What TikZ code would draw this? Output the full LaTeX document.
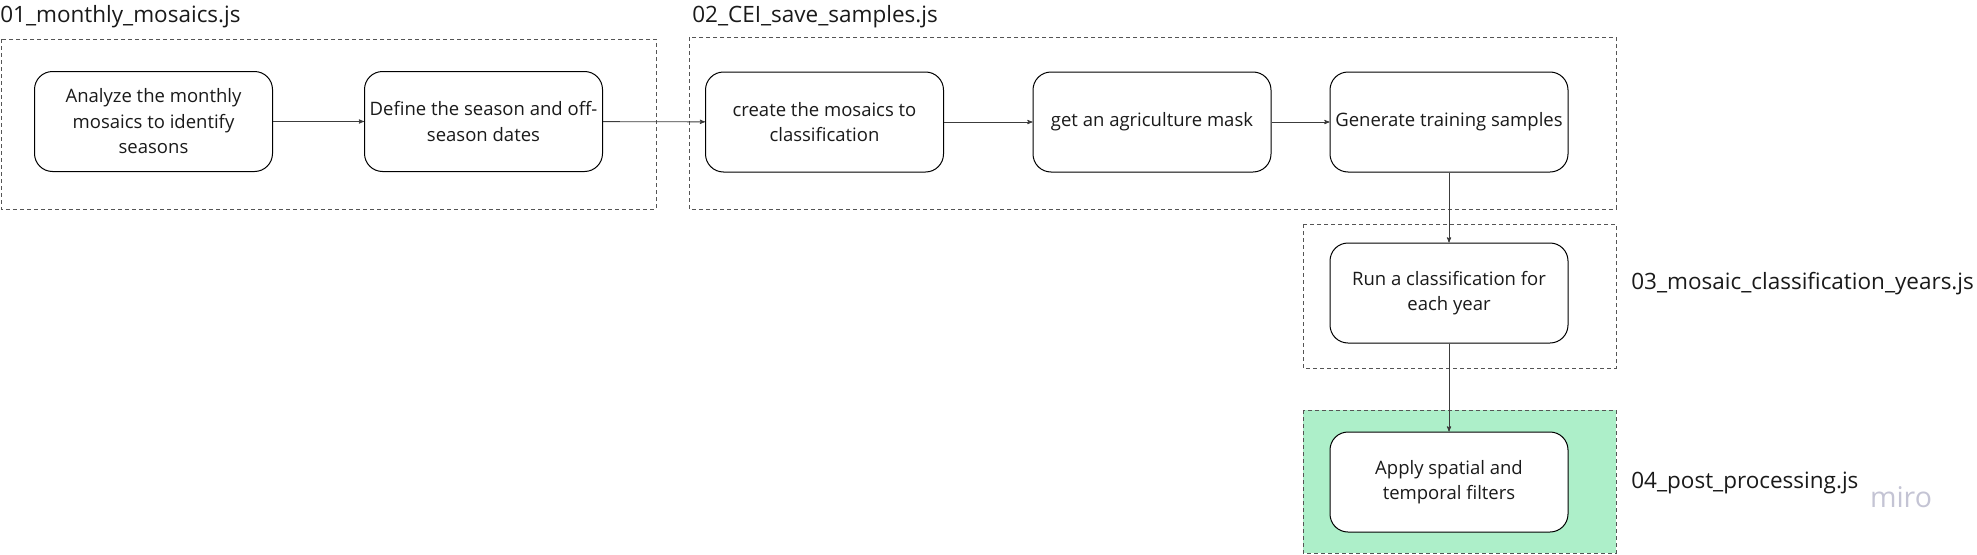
\documentclass[tikz,border=0pt]{standalone}
\usepackage{fontspec}
\setmainfont{Open Sans}
\usepackage{xcolor}
\usepackage{tikz}
\usetikzlibrary{arrows, positioning}
\definecolor{green1}{HTML}{ADEFC9}
\definecolor{frame1}{HTML}{555555}
\definecolor{ink1}{HTML}{1A1A1A}
\definecolor{miro1}{HTML}{C4C4D4}

\begin{document}
\begin{tikzpicture}[x=1pt,y=-1pt,->,>=stealth',semithick]
  \tikzstyle{task}=[draw=black,line width=1pt,rounded corners=18pt,fill=white,
                    minimum width=238pt,minimum height=100pt,align=center,
                    text=ink1,font=\fontsize{18.5}{25.5}\selectfont]
  \tikzstyle{grp}=[draw=frame1,line width=0.9pt,dash pattern=on 4pt off 3pt]
  \tikzstyle{file}=[anchor=base west,inner sep=0pt,text=ink1,
                    font=\fontsize{22.5}{26}\selectfont]
  \tikzstyle{flow}=[draw=ink1!85,line width=0.9pt]

  \useasboundingbox (0,0) rectangle (1977,554);

  % script frames
  \draw[grp,-] (1,39) rectangle (656,209);
  \draw[grp,-] (689,37) rectangle (1616,209);
  \draw[grp,-] (1303,224) rectangle (1616,368);
  \draw[grp,-,fill=green1] (1303,410) rectangle (1616,553);

  \node[file] (f1) at (0,22)     {01\_monthly\_mosaics.js};
  \node[file] (f2) at (692,22)   {02\_CEI\_save\_samples.js};
  \node[file] (f3) at (1631,289) {03\_mosaic\_classification\_years.js};
  \node[file] (f4) at (1631,488) {04\_post\_processing.js};

  \node[task] (ana)  at (153.5,121.5) {Analyze the monthly\\mosaics to identify\\seasons};
  \node[task] (def)  at (483.5,121.5) {Define the season and off-\\season dates};
  \node[task] (mos)  at (824.5,122)   {create the mosaics to\\classification};
  \node[task] (mask) at (1152,122)    {get an agriculture mask};
  \node[task] (gen)  at (1449,122)    {Generate training samples};
  \node[task] (run)  at (1449,293)    {Run a classification for\\each year};
  \node[task] (filt) at (1449,482)    {Apply spatial and\\temporal filters};

  \path[flow] (ana) edge (def)
              (def) edge (mos)
              (mos) edge (mask)
              (mask) edge (gen)
              (gen) edge (run)
              (run) edge (filt);

  \node[anchor=center,inner sep=0pt,text=miro1,
        font=\fontsize{28.5}{30}\selectfont] (wm) at (1901,497) {miro};
\end{tikzpicture}
\end{document}
